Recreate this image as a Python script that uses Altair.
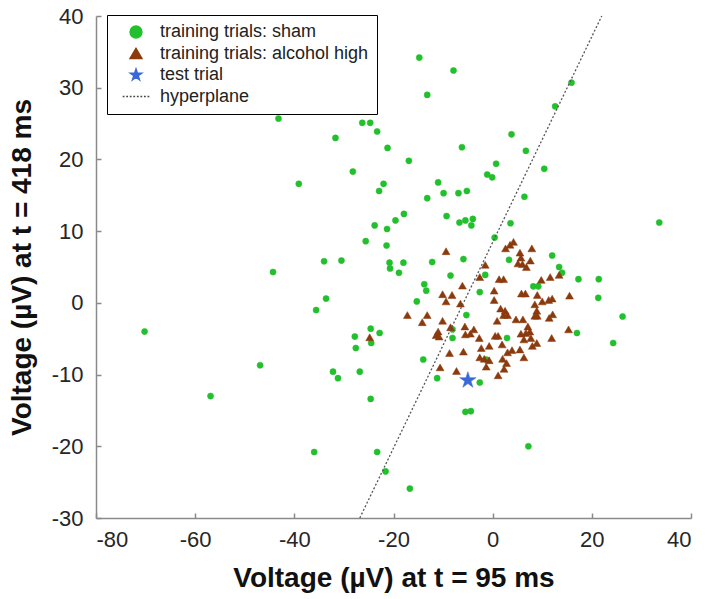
import altair as alt
import pandas as pd

# ---- data ----
sham_x = [-43.2, -26.3, -24.7, -23.3, -31.7, -21.2, -28.2, -39.1, -22.0, -22.9,
          -23.8, -21.3, -25.6, -21.4, -34.0, -30.5, -44.3, -20.8, -20.7, -14.8,
          -7.9, -13.2, 15.9, 12.6, 3.8, -6.2, 6.7, -16.9, 0.7, -1.1,
          -0.1, 10.4, -11.0, -9.9, -6.9, -5.2, -13.2, 6.4, -17.9, -19.6,
          -9.3, -6.7, -5.5, -4.0, -4.3, 3.6, 33.6, 0.4, -18.0, -12.2,
          -5.9, 3.3, 12.0, 13.4, -18.9, 14.0, -8.5, -1.5, 17.3, 21.4,
          -13.8, -13.4, -2.6, 8.2, 9.2, 21.3, -15.3, -5.3, 26.2, -22.8,
          -8.1, -8.1, 2.9, 17.0, 24.3, -14.0, -1.3, -11.2, -2.6, -5.5,
          -4.4, 7.2, -21.6, -16.7, -33.6, -35.6, -70.2, -24.6, -24.5, -27.8,
          -27.6, -46.9, -32.2, -31.2, -26.8, -56.9, -24.6, -36.0, -23.3]
sham_y = [25.7, 25.1, 25.1, 23.9, 23.0, 21.6, 18.3, 16.6, 16.6, 15.6,
          10.8, 10.3, 8.6, 8.0, 5.8, 5.9, 4.3, 5.6, 4.8, 34.2,
          32.4, 29.0, 30.7, 27.4, 23.5, 21.7, 21.2, 19.8, 19.4, 17.9,
          17.5, 18.7, 16.8, 15.3, 15.3, 15.6, 14.6, 14.8, 12.4, 11.5,
          12.1, 11.2, 11.5, 11.7, 10.8, 11.1, 11.2, 9.1, 5.6, 5.7,
          6.1, 6.0, 6.6, 5.0, 4.2, 4.2, 3.8, 3.9, 3.3, 3.3,
          2.6, 1.7, 1.5, 2.3, 2.3, 0.7, 0.2, -1.7, -1.9, -4.2,
          -3.7, -4.9, -4.9, -4.2, -5.6, -7.9, -7.9, -10.5, -11.1, -15.2,
          -15.1, -20.0, -23.5, -25.9, 0.6, -1.0, -4.0, -3.6, -5.6, -4.7,
          -6.3, -8.7, -9.6, -10.5, -9.6, -13.0, -13.4, -20.8, -20.8]

alc_x = [-24.8, -9.4, -1.5, -2.6, -6.1, -10.1, -8.2, -9.4, -6.5, -17.2,
         -13.2, -14.2, -10.1, -8.5, -11.0, -11.4, -10.8, -5.6, -5.5, -4.5,
         -3.8, -2.7, -0.7, -2.3, -8.7, -5.9, -2.6, -1.7, -0.7, -1.3,
         -10.6, -7.3, 4.2, 3.5, 2.6, 7.9, 5.5, 5.7, 7.6, 5.1,
         6.0, 6.8, 9.8, 11.6, 13.4, 1.3, 2.2, 0.3, 0.3, 5.8,
         6.6, 9.0, 15.5, 8.5, 10.0, 11.3, 12.0, 1.6, 2.5, 3.0,
         2.2, 0.9, 4.7, 6.1, 8.9, 9.0, 8.5, 12.1, 11.4, 7.1,
         7.5, 6.7, 5.7, 0.5, 1.1, 15.3, 11.9, 6.3, 7.7, 8.9,
         8.0, 1.9, 5.5, 3.9, 3.0, 6.3, 2.0, 2.8, 2.3, 1.1]
alc_y = [-4.8, 7.2, 5.3, 3.6, 2.4, 1.2, 1.1, 0.2, -0.1, -1.7,
         -1.7, -2.7, -2.5, -3.4, -4.0, -4.5, -4.7, -3.3, -4.4, -4.3,
         -3.7, -4.9, -6.0, -6.3, -7.0, -6.8, -7.6, -7.8, -8.0, -8.9,
         -9.0, -9.5, 8.5, 8.1, 7.6, 7.6, 7.0, 6.3, 5.9, 5.5,
         5.4, 5.0, 3.2, 3.6, 3.9, 3.3, 3.3, 1.7, 0.4, 1.3,
         1.3, 1.1, 1.0, -0.2, 0.2, 0.4, 0.6, -0.8, -1.1, -1.7,
         -1.7, -2.5, -2.3, -2.3, -1.1, -1.8, -1.8, -1.6, -2.1, -3.3,
         -4.0, -4.2, -4.3, -4.6, -4.6, -3.7, -4.9, -5.1, -4.9, -5.6,
         -6.0, -5.8, -6.5, -6.6, -6.9, -7.6, -7.8, -8.4, -9.2, -10.1]

test_x = [-5.0]
test_y = [-10.8]

hp_x = [-26.8, 22.0]
hp_y = [-30.0, 40.0]

series_names = ["training trials: sham", "training trials: alcohol high",
                "test trial", "hyperplane"]
x_ticks = [-80, -60, -40, -20, 0, 20, 40]
y_ticks = [-30, -20, -10, 0, 10, 20, 30, 40]

# ---- styling ----
colors = ["#22c02d", "#8b3a0e", "#3a68d8", "#444444"]
STAR = ("M0,-1L0.225,-0.309L0.951,-0.309L0.363,0.118L0.588,0.809L0,0.382"
        "L-0.588,0.809L-0.363,0.118L-0.951,-0.309L-0.225,-0.309Z")
DOTS = ("M-2.25,0H-1.95M-1.65,0H-1.35M-1.05,0H-0.75M-0.45,0H-0.15"
        "M0.15,0H0.45M0.75,0H1.05M1.35,0H1.65M1.95,0H2.25")
shapes = ["circle", "triangle-up", STAR, DOTS]
marker_area = {series_names[0]: 38, series_names[1]: 62, series_names[2]: 300}

pts = pd.concat([
    pd.DataFrame({"x": sham_x, "y": sham_y, "series": series_names[0]}),
    pd.DataFrame({"x": alc_x, "y": alc_y, "series": series_names[1]}),
    pd.DataFrame({"x": test_x, "y": test_y, "series": series_names[2]}),
], ignore_index=True)
pts["order"] = range(len(pts))
pts["sz"] = pts["series"].map(marker_area)
hp = pd.DataFrame({"x": hp_x, "y": hp_y})

FONT = "Liberation Sans"
MINUS_FIX = "replace(datum.label, '\u2212', '-')"

xenc = alt.X("x:Q", scale=alt.Scale(domain=[-80, 40], nice=False, zero=False),
             axis=alt.Axis(values=x_ticks, title="Voltage (µV) at t = 95 ms",
                           grid=False, tickSize=alt.ExprRef(expr="-5"),
                           labelExpr=MINUS_FIX,
                           labelPadding=16, titlePadding=14))
yenc = alt.Y("y:Q", scale=alt.Scale(domain=[-30, 40], nice=False, zero=False),
             axis=alt.Axis(values=y_ticks, title="Voltage (µV) at t = 418 ms",
                           grid=False, tickSize=alt.ExprRef(expr="-5"),
                           labelExpr=MINUS_FIX,
                           labelPadding=18, titlePadding=15))

fill_scale = alt.Scale(domain=series_names, range=colors)
legend = alt.Legend(title=None, orient="none", legendX=11, legendY=-1,
                    strokeColor="black", fillColor="white", padding=8,
                    labelFont=FONT, labelFontSize=18, labelColor="#222222",
                    labelLimit=400, symbolOffset=12, labelOffset=15,
                    rowPadding=3.5, symbolSize=140, symbolStrokeWidth=1.5)

points = alt.Chart(pts).mark_point(filled=True, strokeWidth=0.5, opacity=1).encode(
    x=xenc,
    y=yenc,
    fill=alt.Fill("series:N", scale=fill_scale, legend=legend),
    stroke=alt.Stroke("series:N", scale=fill_scale, legend=legend),
    shape=alt.Shape("series:N", scale=alt.Scale(domain=series_names, range=shapes),
                    legend=legend),
    size=alt.Size("sz:Q", scale=None),
    order=alt.Order("order:Q"),
)

line = alt.Chart(hp).mark_line(color="#555555", strokeWidth=1.3,
                               strokeDash=[2, 2]).encode(x="x:Q", y="y:Q")

chart = alt.layer(points, line).properties(
    width=595, height=502,
    autosize=alt.AutoSizeParams(type="none"),
    padding={"left": 96, "top": 16, "right": 17, "bottom": 81},
    background="white",
).configure_view(stroke=None).configure_axis(
    domainColor="#8a8a8a", domainWidth=1.5, tickColor="#8a8a8a", tickWidth=1.5,
    labelFont=FONT, labelFontSize=22, labelColor="#262626",
    titleFont=FONT, titleFontSize=28, titleFontWeight="bold", titleColor="#111111",
)

chart.save("out.html", embed_options={"renderer": "svg", "actions": False})
